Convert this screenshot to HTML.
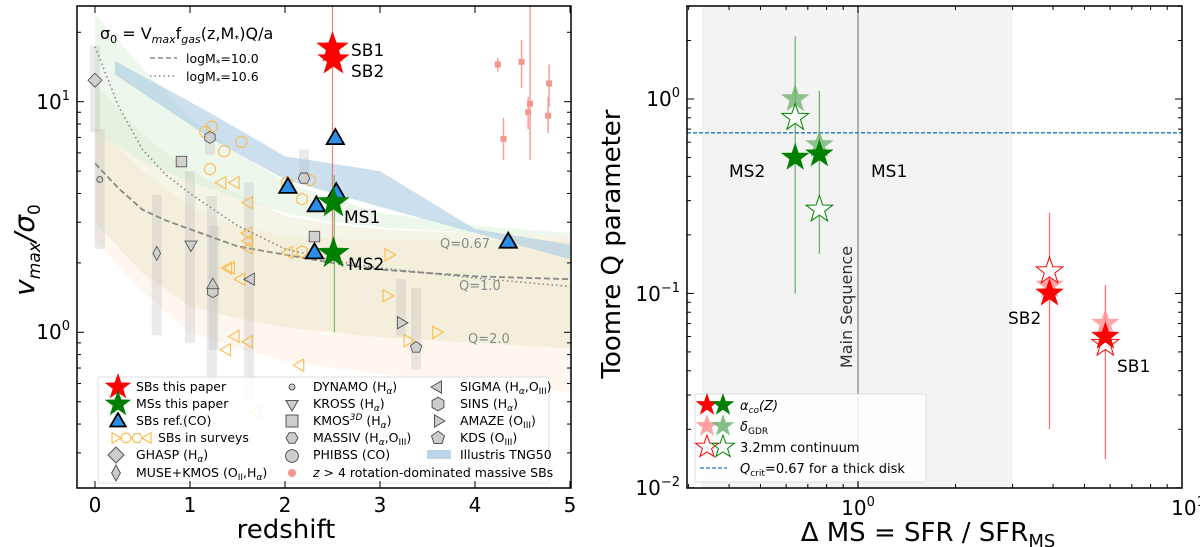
<!DOCTYPE html>
<html><head><meta charset="utf-8"><style>
html,body{margin:0;padding:0;background:#fff;}
svg{display:block;font-family:"DejaVu Sans","Liberation Sans",sans-serif;}
</style></head><body>
<svg id="fig" width="1200" height="547" viewBox="0 0 1200 547" xmlns="http://www.w3.org/2000/svg">
<defs>
<clipPath id="clipL"><rect x="77" y="6" width="494" height="482"/></clipPath>
<clipPath id="clipR"><rect x="687" y="6" width="495" height="482"/></clipPath>
</defs>
<g id="gL" clip-path="url(#clipL)"></g>
<g id="gR" clip-path="url(#clipR)"></g>
<g id="axes"></g>

<text x="100" y="39" font-size="16">σ<tspan font-size="11" dy="4">0</tspan><tspan dy="-4"> = V</tspan><tspan font-size="11" dy="4" font-style="italic">max</tspan><tspan dy="-4">f</tspan><tspan font-size="11" dy="4" font-style="italic">gas</tspan><tspan dy="-4">(z,M</tspan><tspan font-size="10" dy="3">*</tspan><tspan dy="-3">)Q/a</tspan></text>
<line x1="150" y1="58" x2="177" y2="58" stroke="#888" stroke-width="1.5" stroke-dasharray="5,3"/>
<text x="186" y="63" font-size="12.5">logM<tspan font-size="9" dy="3">*</tspan><tspan dy="-3">=10.0</tspan></text>
<line x1="150" y1="76" x2="177" y2="76" stroke="#888" stroke-width="1.5" stroke-dasharray="1.5,3"/>
<text x="186" y="81" font-size="12.5">logM<tspan font-size="9" dy="3">*</tspan><tspan dy="-3">=10.6</tspan></text>
<text x="440" y="248" font-size="13" fill="#888">Q=0.67</text>
<text x="459" y="290" font-size="13" fill="#888">Q=1.0</text>
<text x="468" y="343" font-size="13" fill="#888">Q=2.0</text>
<text x="351" y="56" font-size="17">SB1</text>
<text x="351" y="77" font-size="17">SB2</text>
<text x="344" y="223" font-size="17">MS1</text>
<text x="348" y="270" font-size="17">MS2</text>

<g>
<rect x="98" y="377" width="451" height="106" fill="#fff" fill-opacity="0.85" stroke="#ddd" rx="2"/>
<g font-size="12.5">
<text x="136" y="391">SBs this paper</text>
<text x="136" y="408">MSs this paper</text>
<text x="136" y="425">SBs ref.(CO)</text>
<text x="158" y="442">SBs in surveys</text>
<text x="136" y="459">GHASP (H<tspan font-size="9" dy="3" font-style="italic">α</tspan><tspan dy="-3">)</tspan></text>
<text x="136" y="477">MUSE+KMOS (O<tspan font-size="9" dy="3">II</tspan><tspan dy="-3">,H</tspan><tspan font-size="9" dy="3" font-style="italic">α</tspan><tspan dy="-3">)</tspan></text>
<text x="313" y="391">DYNAMO (H<tspan font-size="9" dy="3" font-style="italic">α</tspan><tspan dy="-3">)</tspan></text>
<text x="313" y="408">KROSS (H<tspan font-size="9" dy="3" font-style="italic">α</tspan><tspan dy="-3">)</tspan></text>
<text x="313" y="425">KMOS<tspan font-size="9" dy="-5" font-style="italic">3D</tspan><tspan dy="5"> (H</tspan><tspan font-size="9" dy="3" font-style="italic">α</tspan><tspan dy="-3">)</tspan></text>
<text x="313" y="442">MASSIV (H<tspan font-size="9" dy="3" font-style="italic">α</tspan><tspan dy="-3">,O</tspan><tspan font-size="9" dy="3">III</tspan><tspan dy="-3">)</tspan></text>
<text x="313" y="459">PHIBSS (CO)</text>
<text x="313" y="477"><tspan font-style="italic">z</tspan> &gt; 4 rotation-dominated massive SBs</text>
<text x="460" y="391">SIGMA (H<tspan font-size="9" dy="3" font-style="italic">α</tspan><tspan dy="-3">,O</tspan><tspan font-size="9" dy="3">III</tspan><tspan dy="-3">)</tspan></text>
<text x="460" y="408">SINS (H<tspan font-size="9" dy="3" font-style="italic">α</tspan><tspan dy="-3">)</tspan></text>
<text x="460" y="425">AMAZE (O<tspan font-size="9" dy="3">III</tspan><tspan dy="-3">)</tspan></text>
<text x="460" y="442">KDS (O<tspan font-size="9" dy="3">III</tspan><tspan dy="-3">)</tspan></text>
<text x="460" y="459">Illustris TNG50</text>
</g>
<rect x="427" y="450" width="24" height="9" fill="#bcd5e9"/>
</g>

<g id="rightText">
<text x="729" y="177" font-size="17">MS2</text>
<text x="871" y="177" font-size="17">MS1</text>
<text x="1008" y="324" font-size="17">SB2</text>
<text x="1117" y="372" font-size="17">SB1</text>
<text transform="translate(852,307) rotate(-90)" text-anchor="middle" font-size="16" fill="#333">Main Sequence</text>
</g>

<g>
<rect x="695" y="394" width="231" height="88" fill="#fff" fill-opacity="0.85" stroke="#ddd" rx="2"/>
<g font-size="13">
<text x="740" y="410" font-style="italic">α<tspan font-size="9" dy="3">co</tspan><tspan dy="-3">(Z)</tspan></text>
<text x="740" y="431" font-style="italic">δ<tspan font-size="9" dy="3" font-style="normal">GDR</tspan></text>
<text x="740" y="452">3.2mm continuum</text>
<text x="740" y="473"><tspan font-style="italic">Q</tspan><tspan font-size="9" dy="3">crit</tspan><tspan dy="-3">=0.67 for a thick disk</tspan></text>
</g>
<line x1="700" y1="468" x2="727" y2="468" stroke="#1f77b4" stroke-width="1.3" stroke-dasharray="4,2"/>
</g>
</svg>
<script>
const NS='http://www.w3.org/2000/svg';
// ---------- LEFT panel data ----------
const sbStarZ=[2.50,2.51]; const sbStarV=[17.1,15.2];
const msStarZ=[2.51,2.51]; const msStarV=[3.65,2.2];
const refTriZ=[2.53,2.03,2.54,2.33,2.31,4.35]; const refTriV=[6.95,4.27,4.05,3.55,2.22,2.47];
const survCircZ=[1.16,1.23,1.36,1.54,1.21]; const survCircV=[7.4,7.8,6.1,6.7,5.1];
const survHexZ=[2.02,2.26,2.18,2.18]; const survHexV=[4.46,4.57,3.78,2.24];
const survLtZ=[1.34,1.48,1.62,1.61,1.62,1.62,2.04,1.40,1.43,1.54,1.48,1.62,2.16,1.39,1.70];
const survLtV=[4.46,4.46,3.65,2.69,2.49,2.32,2.22,1.9,1.9,1.7,0.96,0.91,0.72,0.84,0.45];
const survRtZ=[3.09,3.07,3.59,3.29]; const survRtV=[2.17,1.44,1.0,0.92];
const z4Z=[4.24,4.49,4.30,4.56,4.58,4.77,4.78]; const z4V=[14.5,14.9,6.9,9.0,9.8,8.7,12.0];
const z4Lo=[13.5,11.5,5.6,7.6,5.6,7.3,9.5]; const z4Hi=[15.5,18.5,8.5,10.5,26,10.5,14.5];
const grayZ=[0.0,0.05,0.65,1.0,1.23,1.25,1.62,1.21,2.2,3.22,3.38];
const grayLo=[7.4,2.3,0.97,0.9,0.6,0.84,0.5,5.9,4.46,0.96,0.69];
const grayHi=[17.5,7.6,3.95,5.0,3.9,2.9,4.46,6.8,6.2,1.7,1.56];
const surveyType=['diamond','thin-diamond','circle-s','tri-down','square','square','hex','hex','tri-left','hex2','tri-right','pentagon','tri-up'];
const surveyZ=[0.0,0.65,0.05,1.01,0.91,2.31,1.21,1.24,1.64,2.20,3.22,3.38,1.24];
const surveyV=[12.4,2.2,4.6,2.4,5.5,2.6,7.0,1.5,1.7,4.66,1.1,0.86,1.6];
const bandZ=[0,0.5,1,1.5,2,2.5,3,4,5];
const greenHi=[24,14,8.5,6,4.5,3.8,3.3,2.9,2.7]; const greenLo=[7.5,5.5,4.5,3.8,3.3,3.0,2.85,2.7,2.6];
const khakiHi=[12,7.2,5,4,3.2,2.95,2.8,2.7,2.6]; const khakiLo=[3,1.8,1.3,1.15,1.05,1.0,0.95,0.9,0.85];
const orangeHi=[8,5,3.5,2.9,2.6,2.55,2.5,2.5,2.5]; const orangeLo=[2.5,1.5,1.0,0.85,0.75,0.7,0.66,0.6,0.55];
const tngZ=[0.21,1.2,2.0,3.0,4.0,5.0]; const tngHi=[15.0,9.0,5.8,5.0,2.8,2.4];
const tngLoZ=[0.21,1.2,2.0,3.0,4.0,5.0]; const tngLo=[13.1,7.0,4.6,3.5,2.7,2.07];
const curveZ=[0,0.25,0.5,0.75,1,1.5,2,2.5,3,4,5];
const dashV=[5.4,4.2,3.4,3.05,2.8,2.36,2.17,2.0,1.87,1.75,1.7];
const dotV=[17.3,9.5,6.2,4.8,4.0,2.9,2.3,2.05,1.9,1.72,1.58];
const xTicksL=[0,1,2,3,4,5];
// ---------- RIGHT panel data ----------
const rCats=['MS2','MS1','SB2','SB1'];
const rDms=[0.64,0.76,3.9,5.8];
const qAlpha=[0.5,0.52,0.1,0.06];
const qGdr=[1.0,0.58,0.11,0.07];
const qCont=[0.8,0.27,0.13,0.055];
const qErrLo=[0.1,0.16,0.02,0.014];
const qErrHi=[2.1,1.1,0.26,0.11];
const qCrit=0.67;

const L10=Math.log10;
const xL=z=>95+95*z, yL=v=>332.3-230.6*L10(v);
const xR=d=>858+324*L10(d), yR=q=>99-194.4*L10(q);
const svg=document.getElementById('fig');
const gL=document.getElementById('gL'), gR=document.getElementById('gR'), gA=document.getElementById('axes');
function mk(tag,attrs,parent){const e=document.createElementNS(NS,tag);for(const k in attrs)e.setAttribute(k,attrs[k]);parent.appendChild(e);return e;}
function starD(cx,cy,r){let d='';for(let i=0;i<10;i++){const rr=i%2?r*0.4:r;const a=-Math.PI/2+i*Math.PI/5;d+=(i?'L':'M')+(cx+rr*Math.cos(a)).toFixed(1)+','+(cy+rr*Math.sin(a)).toFixed(1);}return d+'Z';}
function polyD(cx,cy,r,n,rot){let d='';for(let i=0;i<n;i++){const a=rot+i*2*Math.PI/n;d+=(i?'L':'M')+(cx+r*Math.cos(a)).toFixed(1)+','+(cy+r*Math.sin(a)).toFixed(1);}return d+'Z';}
function shapeD(t,x,y,r){
 switch(t){
  case 'tri-up':return polyD(x,y,r,3,-Math.PI/2);
  case 'tri-down':return polyD(x,y,r,3,Math.PI/2);
  case 'tri-left':return polyD(x,y,r,3,Math.PI);
  case 'tri-right':return polyD(x,y,r,3,0);
  case 'square':return `M${x-r*0.75},${y-r*0.75}h${r*1.5}v${r*1.5}h${-r*1.5}Z`;
  case 'diamond':return polyD(x,y,r,4,0);
  case 'thin-diamond':return `M${x},${y-r}L${x+r*0.55},${y}L${x},${y+r}L${x-r*0.55},${y}Z`;
  case 'hex':return polyD(x,y,r*0.85,6,-Math.PI/2);
  case 'hex2':return polyD(x,y,r*0.85,6,0);
  case 'pentagon':return polyD(x,y,r*0.85,5,-Math.PI/2);
  case 'circle':return `M${x-r*0.8},${y}a${r*0.8},${r*0.8} 0 1,0 ${r*1.6},0a${r*0.8},${r*0.8} 0 1,0 ${-r*1.6},0Z`;
  case 'circle-s':return `M${x-3},${y}a3,3 0 1,0 6,0a3,3 0 1,0 -6,0Z`;
 }
}
function bandPath(zs,hi,zs2,lo){let d='';zs.forEach((z,i)=>{d+=(i?'L':'M')+xL(z)+','+yL(hi[i]);});for(let i=zs2.length-1;i>=0;i--)d+='L'+xL(zs2[i])+','+yL(lo[i]);return d+'Z';}
function lineD(zs,vs){return zs.map((z,i)=>(i?'L':'M')+xL(z).toFixed(1)+','+yL(vs[i]).toFixed(1)).join('');}

let e;
e=mk('path',{d:bandPath(bandZ,orangeHi,bandZ,orangeLo),fill:'#fbe3cc','fill-opacity':0.3},gL);


e=mk('path',{d:bandPath(bandZ,khakiHi,bandZ,khakiLo),fill:'#e2dfbb','fill-opacity':0.35},gL);


e=mk('path',{d:bandPath(bandZ,greenHi,bandZ,greenLo),fill:'#d8eed4','fill-opacity':0.45},gL);


e=mk('path',{d:bandPath(tngZ,tngHi,tngLoZ,tngLo),fill:'#a9c9e2','fill-opacity':0.6},gL);


grayZ.forEach((z,i)=>{const r=mk('rect',{x:xL(z)-5,y:yL(grayHi[i]),width:10,height:yL(grayLo[i])-yL(grayHi[i]),fill:'#bbb','fill-opacity':0.3},gL);

});
e=mk('path',{d:lineD(curveZ,dashV),fill:'none',stroke:'#888','stroke-width':1.8,'stroke-dasharray':'6,3'},gL);


e=mk('path',{d:lineD(curveZ,dotV),fill:'none',stroke:'#888','stroke-width':1.6,'stroke-dasharray':'1.5,3'},gL);


z4Z.forEach((z,i)=>{const l=mk('line',{x1:xL(z),x2:xL(z),y1:yL(z4Hi[i]),y2:yL(z4Lo[i]),stroke:'#f4a09a','stroke-width':1.5},gL);


const s=mk('rect',{x:xL(z)-3,y:yL(z4V[i])-3,width:6,height:6,fill:'#f4958e'},gL);

});
function orange(zs,vs,t,name){zs.forEach((z,i)=>{const p=mk('path',{d:shapeD(t,xL(z),yL(vs[i]),7),fill:'none',stroke:'#fbb740','stroke-width':1.2,'stroke-opacity':0.85},gL);

});}
orange(survCircZ,survCircV,'circle','sb-survey-circle');
orange(survHexZ,survHexV,'hex','sb-survey-hexagon');
orange(survLtZ,survLtV,'tri-left','sb-survey-left-triangle');
orange(survRtZ,survRtV,'tri-right','sb-survey-right-triangle');
surveyZ.forEach((z,i)=>{const p=mk('path',{d:shapeD(surveyType[i],xL(z),yL(surveyV[i]),7),fill:'#ccc',stroke:'#555','stroke-width':0.9,'fill-opacity':0.85},gL);

});
e=mk('line',{x1:xL(2.5),x2:xL(2.5),y1:0,y2:yL(2.5),stroke:'#f44','stroke-width':1.2,'stroke-opacity':0.7},gL);


e=mk('line',{x1:xL(2.52),x2:xL(2.52),y1:yL(4.8),y2:yL(1.0),stroke:'#4a4','stroke-width':1.2,'stroke-opacity':0.7},gL);


refTriZ.forEach((z,i)=>{const p=mk('path',{d:shapeD('tri-up',xL(z),yL(refTriV[i])+1,10),fill:'#2a8fe8',stroke:'#000','stroke-width':1.8},gL);

});
sbStarZ.forEach((z,i)=>{const p=mk('path',{d:starD(xL(z),yL(sbStarV[i]),17),fill:'#f00'},gL);

});
msStarZ.forEach((z,i)=>{const p=mk('path',{d:starD(xL(z),yL(msStarV[i]),17),fill:'#008000'},gL);

});

// ---------- right panel ----------
e=mk('rect',{x:xR(0.33),y:6,width:xR(3)-xR(0.33),height:482,fill:'#f3f3f3'},gR);


e=mk('line',{x1:xR(1),x2:xR(1),y1:6,y2:488,stroke:'#999','stroke-width':1.5},gR);


e=mk('line',{x1:687,x2:1182,y1:yR(qCrit),y2:yR(qCrit),stroke:'#1f77b4','stroke-width':1.3,'stroke-dasharray':'4,2'},gR);


rCats.forEach((c,i)=>{
 const col=c.startsWith('MS')?'#008000':'#f00', light=c.startsWith('MS')?'#6aaf6a':'#f88';
 const x=xR(rDms[i]);
 const l=mk('line',{x1:x,x2:x,y1:yR(qErrHi[i]),y2:yR(qErrLo[i]),stroke:col,'stroke-width':1.3,'stroke-opacity':0.55},gR);
 
 
 const a=mk('path',{d:starD(x,yR(qGdr[i]),15),fill:light,'fill-opacity':0.75},gR);
 
 
 const b=mk('path',{d:starD(x,yR(qCont[i]),14),fill:'#fff',stroke:col,'stroke-width':1},gR);
 
 
 const s=mk('path',{d:starD(x,yR(qAlpha[i]),15),fill:col},gR);
 
 
});
svg.insertBefore(gR, document.getElementById('rightText'));
[['#f00',707,405],['#008000',723,405]].forEach(a=>{const p=mk('path',{d:starD(a[1],a[2],12),fill:a[0]},svg);

});
[['#f88',707,426],['#6aaf6a',723,426]].forEach(a=>{const p=mk('path',{d:starD(a[1],a[2],12),fill:a[0],'fill-opacity':0.8},svg);

});
[['#f00',707,447],['#008000',723,447]].forEach(a=>{const p=mk('path',{d:starD(a[1],a[2],12),fill:'none',stroke:a[0]},svg);

});
function lm(d,attrs,name){const p=mk('path',Object.assign({d:d},attrs),svg);

}
lm(starD(118,387,14),{fill:'#f00'},'legend-sb-star');
lm(starD(118,404,14),{fill:'#008000'},'legend-ms-star');
lm(shapeD('tri-up',118,422,9),{fill:'#2a8fe8',stroke:'#000','stroke-width':1.8},'legend-ref-triangle');
['tri-right','circle','hex2','tri-left'].forEach((t,k)=>lm(shapeD(t,115+k*11,438,6),{fill:'none',stroke:'#fbb740','stroke-width':1.1},'legend-survey-marker'));
lm(shapeD('diamond',116,455,8),{fill:'#ccc',stroke:'#555'},'legend-ghasp-marker');
lm(shapeD('thin-diamond',116,473,8),{fill:'#ccc',stroke:'#555'},'legend-muse-marker');
lm(shapeD('circle-s',292,387,5),{fill:'#ccc',stroke:'#555'},'legend-dynamo-marker');
lm(shapeD('tri-down',292,404,7),{fill:'#ccc',stroke:'#555'},'legend-kross-marker');
lm(shapeD('square',292,421,8),{fill:'#ccc',stroke:'#555'},'legend-kmos3d-marker');
lm(shapeD('hex2',292,438,7),{fill:'#ccc',stroke:'#555'},'legend-massiv-marker');
lm(shapeD('circle',292,456,8),{fill:'#ccc',stroke:'#555'},'legend-phibss-marker');
lm('M288,473a4,4 0 1,0 8,0a4,4 0 1,0 -8,0Z',{fill:'#f4958e'},'legend-z4-marker');
lm(shapeD('tri-left',438,387,7),{fill:'#ccc',stroke:'#555'},'legend-sigma-marker');
lm(shapeD('hex',438,404,8),{fill:'#ccc',stroke:'#555'},'legend-sins-marker');
lm(shapeD('tri-right',438,421,7),{fill:'#ccc',stroke:'#555'},'legend-amaze-marker');
lm(shapeD('pentagon',438,438,8),{fill:'#ccc',stroke:'#555'},'legend-kds-marker');

// ---------- axes ----------
svg.appendChild(gA);
function frame(x,y,w,h,name){const r=mk('rect',{x:x,y:y,width:w,height:h,fill:'none',stroke:'#000','stroke-width':1.5},gA);

}
frame(77,6,494,482,'left-axes-frame');
frame(687,6,495,482,'right-axes-frame');
function tick(x1,y1,x2,y2){const t=mk('line',{x1:x1,y1:y1,x2:x2,y2:y2,stroke:'#000','stroke-width':1},gA);

}
function txt(x,y,s,size,anchor,name){const t=mk('text',{x:x,y:y,'font-size':size,'text-anchor':anchor||'middle'},gA);t.innerHTML=s;

return t;}
xTicksL.forEach(z=>{const x=xL(z);tick(x,488,x,481);tick(x,6,x,13);txt(x,512,String(z),20,'middle','x-tick-label-left');});
[0.3,0.4,0.5,0.6,0.7,0.8,0.9,1,2,3,4,5,6,7,8,9,10,20].forEach(v=>{const y=yL(v);const maj=(v===1||v===10);const len=maj?7:4;tick(77,y,77+len,y);tick(571,y,571-len,y);});
txt(70,339,'10<tspan font-size="13" dy="-9">0</tspan>',20,'end','y-tick-label-left');
txt(70,109,'10<tspan font-size="13" dy="-9">1</tspan>',20,'end','y-tick-label-left');
txt(286,538,'redshift',26,'middle','x-axis-title-left');
const yl=txt(0,0,'<tspan font-style="italic">v</tspan><tspan font-size="17" dy="6" font-style="italic">max</tspan><tspan dy="-6" font-style="italic">/σ</tspan><tspan font-size="17" dy="6">0</tspan>',28,'middle','y-axis-title-left');
yl.setAttribute('transform','translate(34,250) rotate(-90)');
[0.3,0.4,0.5,0.6,0.7,0.8,0.9,1,2,3,4,5,6,7,8,9,10].forEach(d=>{const x=xR(d);const maj=(d===1||d===10);const len=maj?7:4;tick(x,488,x,488-len);tick(x,6,x,6+len);});
[0.01,0.02,0.03,0.04,0.05,0.06,0.07,0.08,0.09,0.1,0.2,0.3,0.4,0.5,0.6,0.7,0.8,0.9,1,2,3].forEach(q=>{const y=yR(q);const maj=(q===0.1||q===1||q===0.01);const len=maj?7:4;tick(687,y,687+len,y);tick(1182,y,1182-len,y);});
txt(858,515,'10<tspan font-size="13" dy="-9">0</tspan>',20,'middle','x-tick-label-right');
txt(1188,515,'10<tspan font-size="13" dy="-9">1</tspan>',20,'middle','x-tick-label-right');
txt(680,106,'10<tspan font-size="13" dy="-9">0</tspan>',20,'end','y-tick-label-right');
txt(680,301,'10<tspan font-size="13" dy="-9">−1</tspan>',20,'end','y-tick-label-right');
txt(680,495,'10<tspan font-size="13" dy="-9">−2</tspan>',20,'end','y-tick-label-right');
txt(928,541,'Δ MS = SFR / SFR<tspan font-size="18" dy="6">MS</tspan>',26,'middle','x-axis-title-right');
const yr=txt(0,0,'Toomre Q parameter',26,'middle','y-axis-title-right');
yr.setAttribute('transform','translate(620,244) rotate(-90)');
</script>
</body></html>
